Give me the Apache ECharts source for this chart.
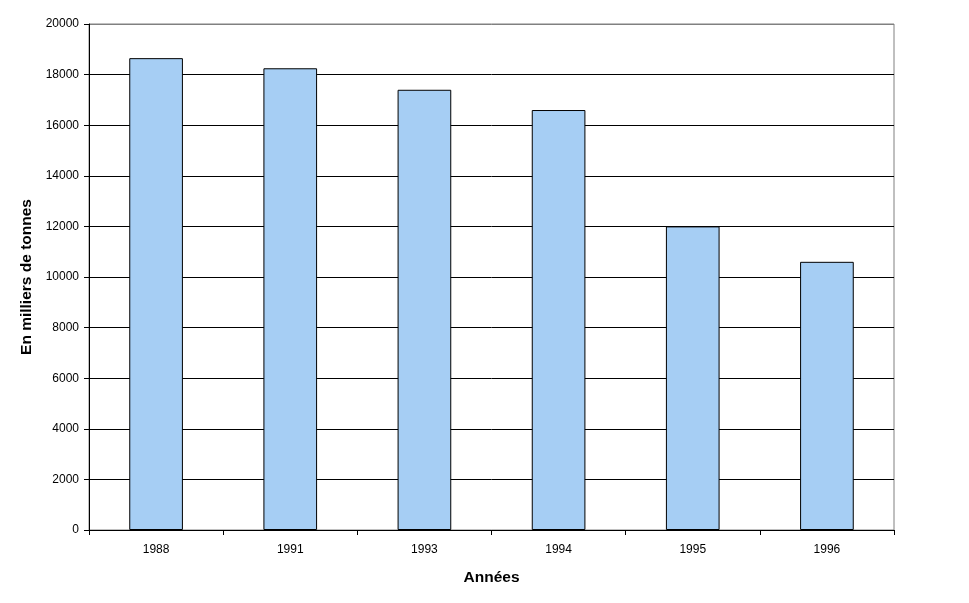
<!DOCTYPE html>
<html><head><meta charset="utf-8">
<script src="https://cdn.jsdelivr.net/npm/echarts@6/dist/echarts.min.js"></script>
<style>html,body{margin:0;padding:0;background:#fff}#c{width:969px;height:603px}</style>
</head><body><div id="c"></div>
<script>
const categories = ['1988','1991','1993','1994','1995','1996'];
const values = [18650, 18250, 17400, 16600, 12000, 10600];
const yTicks = {min: 0, max: 20000, interval: 2000};

const chart = echarts.init(document.getElementById('c'));
const splitColors = [];
for (let i = 0; i <= 10; i++) splitColors.push(i === 10 ? '#808080' : '#000000');
chart.setOption({
  animation: false,
  backgroundColor: '#fff',
  textStyle: {fontFamily: 'Liberation Sans, Arial, sans-serif'},
  grid: {left: 89, right: 75, top: 24, bottom: 73, show: true, borderColor: '#808080', borderWidth: 1},
  xAxis: {
    type: 'category', data: categories,
    name: 'Années', nameLocation: 'middle', nameGap: 40,
    nameTextStyle: {fontSize: 15.5, fontWeight: 'bold', color: '#000'},
    axisLine: {lineStyle: {color: '#000', width: 1}},
    axisTick: {show: true, alignWithLabel: false, length: 5, lineStyle: {color: '#000'}},
    axisLabel: {color: '#000', fontSize: 12, margin: 14}
  },
  yAxis: {
    type: 'value', min: yTicks.min, max: yTicks.max, interval: yTicks.interval,
    name: 'En milliers de tonnes', nameLocation: 'middle', nameGap: 54, nameRotate: 90,
    nameTextStyle: {fontSize: 15.5, fontWeight: 'bold', color: '#000'},
    axisLine: {show: true, lineStyle: {color: '#000', width: 1}},
    axisTick: {show: true, length: 5, lineStyle: {color: '#000'}},
    axisLabel: {color: '#000', fontSize: 12, margin: 10, formatter: v => String(v)},
    splitLine: {show: true, lineStyle: {color: splitColors, width: 1}}
  },
  series: [{
    type: 'bar', data: values, barWidth: '40%',
    itemStyle: {color: '#a6cef4', borderColor: '#000', borderWidth: 1}
  }]
});
</script></body></html>
